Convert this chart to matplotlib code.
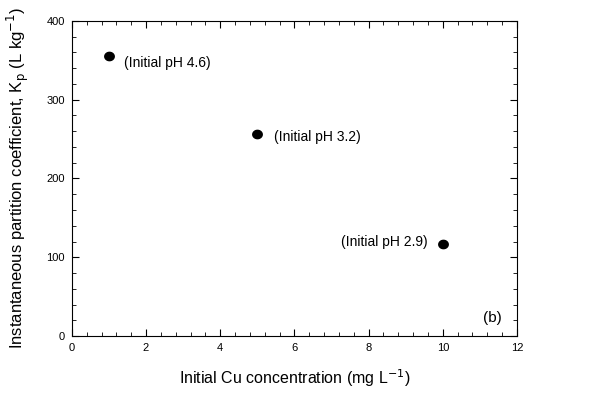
import matplotlib
matplotlib.use('Agg')
import matplotlib.pyplot as plt
from matplotlib.ticker import MultipleLocator
from matplotlib.path import Path
import numpy as np

plt.rcParams['font.family'] = 'Liberation Sans'

# Data
cu_conc = [1, 5, 10]
kp = [355, 256, 117]
labels = ['(Initial pH 4.6)', '(Initial pH 3.2)', '(Initial pH 2.9)']

# slightly flattened dot like the original
t = np.linspace(0, 2 * np.pi, 40)
dot = Path(np.column_stack([np.cos(t), 0.88 * np.sin(t)]), closed=True)

fig = plt.figure(figsize=(6.14, 3.94), dpi=100)
ax = fig.add_axes([0.117, 0.147, 0.725, 0.8])

ax.plot(cu_conc, kp, marker=dot, color='black', markersize=6.8, linestyle='none')

# labels: first two to the right, last to the left
ax.annotate(labels[0], (cu_conc[0], kp[0]), xytext=(11, -5), textcoords='offset points',
            fontsize=10, va='center', ha='left')
ax.annotate(labels[1], (cu_conc[1], kp[1]), xytext=(12, -2), textcoords='offset points',
            fontsize=10, va='center', ha='left')
ax.annotate(labels[2], (cu_conc[2], kp[2]), xytext=(-11, 1), textcoords='offset points',
            fontsize=10, va='center', ha='right')
ax.text(0.966, 0.057, '(b)', transform=ax.transAxes, fontsize=11, ha='right', va='center')

ax.set_xlim(0, 12)
ax.set_ylim(0, 400)
ax.xaxis.set_major_locator(MultipleLocator(2))
ax.xaxis.set_minor_locator(MultipleLocator(0.4))
ax.yaxis.set_major_locator(MultipleLocator(100))
ax.yaxis.set_minor_locator(MultipleLocator(20))
ax.tick_params(which='both', direction='in', top=True, right=True, labelsize=8, pad=5)
ax.tick_params(which='major', length=5)
ax.tick_params(which='minor', length=3)

ax.set_xlabel('Initial Cu concentration (mg L$^{-1}$)', fontsize=11.5, labelpad=10)
ax.set_ylabel('Instantaneous partition coefficient, K$_\\mathrm{p}$ (L kg$^{-1}$)', fontsize=12, labelpad=11)

fig.savefig('out.png', dpi=100)
